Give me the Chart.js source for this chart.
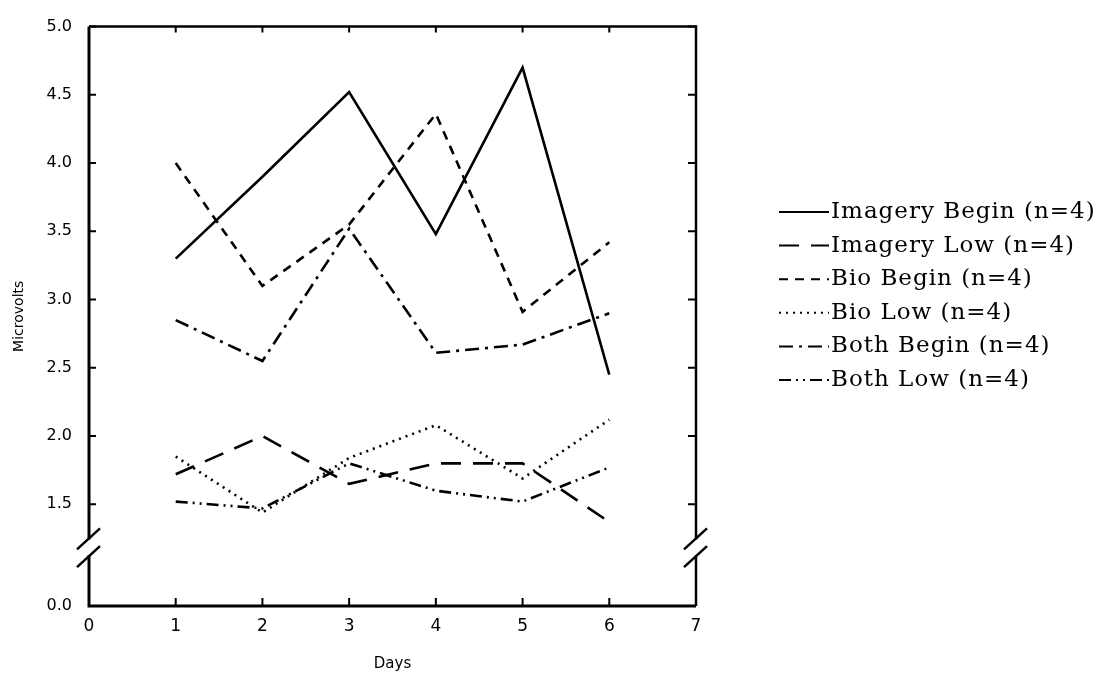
<!DOCTYPE html>
<html>
<head>
<meta charset="utf-8">
<script src="https://cdn.jsdelivr.net/npm/chart.js@4/dist/chart.umd.min.js"></script>
<style>
  html, body { margin: 0; padding: 0; background: #fff; }
  .wrap { width: 1105px; height: 673px; position: relative; }
</style>
</head>
<body>
<div class="wrap"><canvas id="chart"></canvas></div>
<script>
// data
const days = [1, 2, 3, 4, 5, 6];
const imageryBegin = [3.30, 3.90, 4.52, 3.48, 4.70, 2.45];
const imageryLow   = [1.72, 2.00, 1.65, 1.80, 1.80, 1.37];
const bioBegin     = [4.00, 3.10, 3.55, 4.36, 2.91, 3.42];
const bioLow       = [1.85, 1.44, 1.84, 2.08, 1.69, 2.12];
const bothBegin    = [2.85, 2.55, 3.52, 2.61, 2.67, 2.90];
const bothLow      = [1.52, 1.47, 1.80, 1.60, 1.52, 1.77];

const seriesNames = [
  'Imagery Begin (n=4)',
  'Imagery Low (n=4)',
  'Bio Begin (n=4)',
  'Bio Low (n=4)',
  'Both Begin (n=4)',
  'Both Low (n=4)',
];

// y axis is broken: "0.0" sits just under the break
const yTickValues = [1.5, 2.0, 2.5, 3.0, 3.5, 4.0, 4.5, 5.0];
const yZeroPos = 0.755;      // where the 0.0 tick is drawn
const breakHi = 1.25, breakLo = 1.12;

const dashes = [
  [],
  [20, 12],
  [9, 7],
  [2, 5],
  [14, 6, 3, 6],
  [12, 5, 2, 5, 2, 5],
];

function pts(arr) {
  return days.map((d, i) => ({ x: d, y: arr[i] }));
}

const allSeries = [imageryBegin, imageryLow, bioBegin, bioLow, bothBegin, bothLow];

const datasets = allSeries.map((s, i) => ({
  label: seriesNames[i],
  data: pts(s),
  borderColor: '#000',
  backgroundColor: '#000',
  borderWidth: 2.6,
  borderDash: dashes[i],
  pointRadius: 0,
  tension: 0,
}));

const frame = {
  id: 'frame',
  afterDatasetsDraw: (chart) => {
    const ctx = chart.ctx;
    const a = chart.chartArea;
    const xs = chart.scales.x, ys = chart.scales.y;
    ctx.save();
    ctx.strokeStyle = '#000';
    ctx.lineCap = 'butt';

    // box
    ctx.lineWidth = 3;
    ctx.beginPath();
    ctx.moveTo(a.left, a.top); ctx.lineTo(a.left, a.bottom);
    ctx.lineTo(a.right, a.bottom);
    ctx.stroke();
    ctx.lineWidth = 2.5;
    ctx.beginPath();
    ctx.moveTo(a.left, a.top); ctx.lineTo(a.right, a.top); ctx.lineTo(a.right, a.bottom);
    ctx.stroke();

    // inward ticks
    ctx.lineWidth = 2;
    ctx.beginPath();
    days.forEach((d) => {
      const px = xs.getPixelForValue(d);
      ctx.moveTo(px, a.bottom); ctx.lineTo(px, a.bottom - 8);
      ctx.moveTo(px, a.top); ctx.lineTo(px, a.top + 6);
    });
    yTickValues.forEach((v) => {
      const py = ys.getPixelForValue(v);
      ctx.moveTo(a.left, py); ctx.lineTo(a.left + 7, py);
      ctx.moveTo(a.right, py); ctx.lineTo(a.right - 8, py);
    });
    ctx.stroke();

    // axis break marks
    const yHi = ys.getPixelForValue(breakHi);
    const yLo = ys.getPixelForValue(breakLo);
    [a.left, a.right].forEach((x) => {
      ctx.fillStyle = '#fff';
      ctx.fillRect(x - 3, yHi + 1, 6, yLo - yHi - 2);
      ctx.lineWidth = 2.5;
      ctx.beginPath();
      ctx.moveTo(x - 12, yHi + 11); ctx.lineTo(x + 11, yHi - 10);
      ctx.moveTo(x - 12, yLo + 11); ctx.lineTo(x + 11, yLo - 10);
      ctx.stroke();
    });

    // legend
    ctx.font = '23px "DejaVu Serif"';
    ctx.letterSpacing = '1px';
    ctx.fillStyle = '#000';
    ctx.textBaseline = 'middle';
    ctx.textAlign = 'left';
    chart.data.datasets.forEach((ds, i) => {
      const y = 212 + i * 33.6;
      ctx.lineWidth = 2;
      ctx.setLineDash(ds.borderDash);
      ctx.beginPath();
      ctx.moveTo(779, y); ctx.lineTo(829, y);
      ctx.stroke();
      ctx.setLineDash([]);
      ctx.fillText(ds.label, 831, y);
    });
    ctx.restore();
  }
};

new Chart(document.getElementById('chart').getContext('2d'), {
  type: 'line',
  data: { datasets: datasets },
  plugins: [frame],
  options: {
    responsive: true,
    maintainAspectRatio: false,
    animation: false,
    layout: { padding: { top: 24, right: 409, left: 0, bottom: 0 } },
    plugins: { legend: { display: false }, tooltip: { enabled: false } },
    scales: {
      x: {
        type: 'linear',
        min: 0, max: 7,
        border: { display: false },
        grid: { display: false, drawTicks: false },
        ticks: {
          stepSize: 1, padding: 10, color: '#000',
          font: { family: 'DejaVu Sans', size: 17 },
        },
        title: {
          display: true, text: 'Days', color: '#000',
          font: { family: 'DejaVu Sans', size: 15 }, padding: { bottom: 0 },
        },
        afterFit: (s) => { s.height = 67; },
      },
      y: {
        type: 'linear',
        min: yZeroPos, max: 5.0,
        border: { display: false },
        grid: { display: false, drawTicks: false },
        afterBuildTicks: (s) => {
          s.ticks = [yZeroPos].concat(yTickValues).map((v) => ({ value: v }));
        },
        ticks: {
          padding: 17, color: '#000',
          font: { family: 'DejaVu Sans', size: 16 },
          callback: (v) => (v === yZeroPos ? '0.0' : v.toFixed(1)),
        },
        title: {
          display: true, text: 'Microvolts', color: '#000',
          font: { family: 'DejaVu Sans', size: 14 }, padding: { top: 11 },
        },
        afterFit: (s) => { s.width = 89; },
      },
    },
  },
});
</script>
</body>
</html>
